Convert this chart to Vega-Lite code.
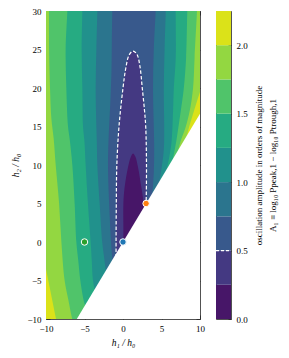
{
  "$schema": "https://vega.github.io/schema/vega-lite/v6.json",
  "background": "white",
  "padding": {"left": 10, "top": 7, "right": 2, "bottom": 2},
  "spacing": 10,
  "config": {
    "view": {"stroke": null},
    "font": "Liberation Serif",
    "axis": {"labelFont": "Liberation Serif", "titleFont": "Liberation Serif", "labelFontSize": 9, "titleFontSize": 9.5, "labelColor": "#000", "titleColor": "#000", "titleFontWeight": "normal", "domainColor": "#262626", "tickColor": "#262626", "domainWidth": 0.8, "tickWidth": 0.8, "grid": false, "zindex": 1, "labelFlush": false, "labelOverlap": false}
  },
  "datasets": {
    "poly": [
      {"p": "base", "band": 7, "i": 0, "x": -11, "y": -11}, {"p": "base", "band": 7, "i": 1, "x": 11, "y": -11}, {"p": "base", "band": 7, "i": 2, "x": 11, "y": 31}, {"p": "base", "band": 7, "i": 3, "x": -11, "y": 31},
      {"p": "yl", "band": 8, "i": 0, "x": -11, "y": -3.0}, {"p": "yl", "band": 8, "i": 1, "x": -10, "y": -3.5}, {"p": "yl", "band": 8, "i": 2, "x": -9.7, "y": -5}, {"p": "yl", "band": 8, "i": 3, "x": -9.3, "y": -7}, {"p": "yl", "band": 8, "i": 4, "x": -8.7, "y": -10}, {"p": "yl", "band": 8, "i": 5, "x": -8.55, "y": -11}, {"p": "yl", "band": 8, "i": 6, "x": -11, "y": -11},
      {"p": "yr", "band": 8, "i": 0, "x": 10.3, "y": 20.2}, {"p": "yr", "band": 8, "i": 1, "x": 10, "y": 19.5}, {"p": "yr", "band": 8, "i": 2, "x": 9.3, "y": 17.3}, {"p": "yr", "band": 8, "i": 3, "x": 8.6, "y": 15}, {"p": "yr", "band": 8, "i": 4, "x": 8.2, "y": 13.5}, {"p": "yr", "band": 8, "i": 5, "x": 11, "y": 13.5}, {"p": "yr", "band": 8, "i": 6, "x": 11, "y": 20.2},
      {"p": "L175", "band": 6, "i": 0, "x": -6.3, "y": -11}, {"p": "L175", "band": 6, "i": 1, "x": -6.6, "y": -10}, {"p": "L175", "band": 6, "i": 2, "x": -7.1, "y": -7.5}, {"p": "L175", "band": 6, "i": 3, "x": -7.58, "y": -5}, {"p": "L175", "band": 6, "i": 4, "x": -8.0, "y": 0}, {"p": "L175", "band": 6, "i": 5, "x": -8.3, "y": 5}, {"p": "L175", "band": 6, "i": 6, "x": -8.74, "y": 10}, {"p": "L175", "band": 6, "i": 7, "x": -9.0, "y": 13.4}, {"p": "L175", "band": 6, "i": 8, "x": -9.3, "y": 16}, {"p": "L175", "band": 6, "i": 9, "x": -9.48, "y": 20}, {"p": "L175", "band": 6, "i": 10, "x": -9.6, "y": 25}, {"p": "L175", "band": 6, "i": 11, "x": -9.61, "y": 30}, {"p": "L175", "band": 6, "i": 12, "x": -9.62, "y": 31},
      {"p": "L175", "band": 6, "i": 13, "x": 9.65, "y": 31}, {"p": "L175", "band": 6, "i": 14, "x": 9.61, "y": 30}, {"p": "L175", "band": 6, "i": 15, "x": 9.3, "y": 24}, {"p": "L175", "band": 6, "i": 16, "x": 9.1, "y": 20}, {"p": "L175", "band": 6, "i": 17, "x": 8.66, "y": 17}, {"p": "L175", "band": 6, "i": 18, "x": 8.1, "y": 14.8}, {"p": "L175", "band": 6, "i": 19, "x": 7.45, "y": 13}, {"p": "L175", "band": 6, "i": 20, "x": 7.0, "y": 11.2},
      {"p": "L150", "band": 5, "i": 0, "x": -4.6, "y": -9}, {"p": "L150", "band": 5, "i": 1, "x": -5.0, "y": -8}, {"p": "L150", "band": 5, "i": 2, "x": -5.54, "y": -5}, {"p": "L150", "band": 5, "i": 3, "x": -5.8, "y": -2.5}, {"p": "L150", "band": 5, "i": 4, "x": -6.06, "y": 0}, {"p": "L150", "band": 5, "i": 5, "x": -6.28, "y": 5}, {"p": "L150", "band": 5, "i": 6, "x": -6.58, "y": 10}, {"p": "L150", "band": 5, "i": 7, "x": -6.93, "y": 13.4}, {"p": "L150", "band": 5, "i": 8, "x": -7.14, "y": 15}, {"p": "L150", "band": 5, "i": 9, "x": -7.36, "y": 20}, {"p": "L150", "band": 5, "i": 10, "x": -7.45, "y": 25}, {"p": "L150", "band": 5, "i": 11, "x": -7.23, "y": 30}, {"p": "L150", "band": 5, "i": 12, "x": -7.22, "y": 31},
      {"p": "L150", "band": 5, "i": 13, "x": 8.4, "y": 31}, {"p": "L150", "band": 5, "i": 14, "x": 8.35, "y": 30}, {"p": "L150", "band": 5, "i": 15, "x": 8.2, "y": 24}, {"p": "L150", "band": 5, "i": 16, "x": 7.9, "y": 20}, {"p": "L150", "band": 5, "i": 17, "x": 7.5, "y": 17}, {"p": "L150", "band": 5, "i": 18, "x": 6.9, "y": 13}, {"p": "L150", "band": 5, "i": 19, "x": 6.4, "y": 10.3},
      {"p": "L125", "band": 4, "i": 0, "x": -3.5, "y": -7}, {"p": "L125", "band": 4, "i": 1, "x": -3.9, "y": -5}, {"p": "L125", "band": 4, "i": 2, "x": -4.05, "y": -2.5}, {"p": "L125", "band": 4, "i": 3, "x": -4.2, "y": 0}, {"p": "L125", "band": 4, "i": 4, "x": -4.55, "y": 5}, {"p": "L125", "band": 4, "i": 5, "x": -4.85, "y": 10}, {"p": "L125", "band": 4, "i": 6, "x": -5.0, "y": 13}, {"p": "L125", "band": 4, "i": 7, "x": -5.19, "y": 15}, {"p": "L125", "band": 4, "i": 8, "x": -5.28, "y": 20}, {"p": "L125", "band": 4, "i": 9, "x": -5.37, "y": 25}, {"p": "L125", "band": 4, "i": 10, "x": -5.28, "y": 30}, {"p": "L125", "band": 4, "i": 11, "x": -5.27, "y": 31},
      {"p": "L125", "band": 4, "i": 12, "x": 6.84, "y": 31}, {"p": "L125", "band": 4, "i": 13, "x": 6.84, "y": 30}, {"p": "L125", "band": 4, "i": 14, "x": 6.85, "y": 24}, {"p": "L125", "band": 4, "i": 15, "x": 6.6, "y": 20}, {"p": "L125", "band": 4, "i": 16, "x": 6.5, "y": 17}, {"p": "L125", "band": 4, "i": 17, "x": 6.3, "y": 13}, {"p": "L125", "band": 4, "i": 18, "x": 5.9, "y": 10.5}, {"p": "L125", "band": 4, "i": 19, "x": 5.4, "y": 8.5},
      {"p": "L100", "band": 3, "i": 0, "x": -2.2, "y": -4}, {"p": "L100", "band": 3, "i": 1, "x": -2.45, "y": -2}, {"p": "L100", "band": 3, "i": 2, "x": -2.7, "y": 0}, {"p": "L100", "band": 3, "i": 3, "x": -3.03, "y": 5}, {"p": "L100", "band": 3, "i": 4, "x": -3.33, "y": 10}, {"p": "L100", "band": 3, "i": 5, "x": -3.4, "y": 13}, {"p": "L100", "band": 3, "i": 6, "x": -3.46, "y": 15}, {"p": "L100", "band": 3, "i": 7, "x": -3.55, "y": 20}, {"p": "L100", "band": 3, "i": 8, "x": -3.46, "y": 25}, {"p": "L100", "band": 3, "i": 9, "x": -3.33, "y": 30}, {"p": "L100", "band": 3, "i": 10, "x": -3.32, "y": 31},
      {"p": "L100", "band": 3, "i": 11, "x": 5.55, "y": 31}, {"p": "L100", "band": 3, "i": 12, "x": 5.55, "y": 30}, {"p": "L100", "band": 3, "i": 13, "x": 5.4, "y": 25}, {"p": "L100", "band": 3, "i": 14, "x": 5.3, "y": 20}, {"p": "L100", "band": 3, "i": 15, "x": 5.35, "y": 15}, {"p": "L100", "band": 3, "i": 16, "x": 5.3, "y": 12}, {"p": "L100", "band": 3, "i": 17, "x": 5.0, "y": 9.5}, {"p": "L100", "band": 3, "i": 18, "x": 4.6, "y": 7.2},
      {"p": "L075", "band": 2, "i": 0, "x": -1.3, "y": -3}, {"p": "L075", "band": 2, "i": 1, "x": -1.45, "y": -1.5}, {"p": "L075", "band": 2, "i": 2, "x": -1.55, "y": 0}, {"p": "L075", "band": 2, "i": 3, "x": -1.8, "y": 5}, {"p": "L075", "band": 2, "i": 4, "x": -1.95, "y": 10}, {"p": "L075", "band": 2, "i": 5, "x": -1.85, "y": 14}, {"p": "L075", "band": 2, "i": 6, "x": -1.65, "y": 18}, {"p": "L075", "band": 2, "i": 7, "x": -1.5, "y": 22}, {"p": "L075", "band": 2, "i": 8, "x": -1.45, "y": 26}, {"p": "L075", "band": 2, "i": 9, "x": -1.39, "y": 30}, {"p": "L075", "band": 2, "i": 10, "x": -1.38, "y": 31},
      {"p": "L075", "band": 2, "i": 11, "x": 4.25, "y": 31}, {"p": "L075", "band": 2, "i": 12, "x": 4.24, "y": 30}, {"p": "L075", "band": 2, "i": 13, "x": 4.0, "y": 25}, {"p": "L075", "band": 2, "i": 14, "x": 3.9, "y": 20}, {"p": "L075", "band": 2, "i": 15, "x": 4.0, "y": 15}, {"p": "L075", "band": 2, "i": 16, "x": 4.05, "y": 12}, {"p": "L075", "band": 2, "i": 17, "x": 4.0, "y": 9}, {"p": "L075", "band": 2, "i": 18, "x": 3.8, "y": 6},
      {"p": "L050", "band": 1, "i": 0, "x": -0.9, "y": -2}, {"p": "L050", "band": 1, "i": 1, "x": -0.9, "y": 0}, {"p": "L050", "band": 1, "i": 2, "x": -0.87, "y": 5}, {"p": "L050", "band": 1, "i": 3, "x": -0.8, "y": 10}, {"p": "L050", "band": 1, "i": 4, "x": -0.52, "y": 15}, {"p": "L050", "band": 1, "i": 5, "x": 0, "y": 20}, {"p": "L050", "band": 1, "i": 6, "x": 0.35, "y": 22.5}, {"p": "L050", "band": 1, "i": 7, "x": 0.8, "y": 24.3}, {"p": "L050", "band": 1, "i": 8, "x": 1.3, "y": 24.8}, {"p": "L050", "band": 1, "i": 9, "x": 1.8, "y": 24.4}, {"p": "L050", "band": 1, "i": 10, "x": 2.2, "y": 22.8}, {"p": "L050", "band": 1, "i": 11, "x": 2.5, "y": 20}, {"p": "L050", "band": 1, "i": 12, "x": 2.8, "y": 17}, {"p": "L050", "band": 1, "i": 13, "x": 2.95, "y": 15}, {"p": "L050", "band": 1, "i": 14, "x": 3.05, "y": 10}, {"p": "L050", "band": 1, "i": 15, "x": 3.0, "y": 5}, {"p": "L050", "band": 1, "i": 16, "x": 2.95, "y": 4},
      {"p": "L025", "band": 0, "i": 0, "x": 0.05, "y": -0.5}, {"p": "L025", "band": 0, "i": 1, "x": 0.05, "y": 2}, {"p": "L025", "band": 0, "i": 2, "x": 0.05, "y": 5}, {"p": "L025", "band": 0, "i": 3, "x": 0.2, "y": 7}, {"p": "L025", "band": 0, "i": 4, "x": 0.65, "y": 9.7}, {"p": "L025", "band": 0, "i": 5, "x": 1.0, "y": 11}, {"p": "L025", "band": 0, "i": 6, "x": 1.3, "y": 11.5}, {"p": "L025", "band": 0, "i": 7, "x": 1.6, "y": 11.1}, {"p": "L025", "band": 0, "i": 8, "x": 1.95, "y": 9.7}, {"p": "L025", "band": 0, "i": 9, "x": 2.4, "y": 7}, {"p": "L025", "band": 0, "i": 10, "x": 2.7, "y": 5}, {"p": "L025", "band": 0, "i": 11, "x": 2.8, "y": 4.3},
      {"p": "white", "band": 9, "i": 0, "x": -6.6, "y": -11}, {"p": "white", "band": 9, "i": 1, "x": 11, "y": 18.333}, {"p": "white", "band": 9, "i": 2, "x": 11, "y": -11}
    ],
    "pts": [
      {"x": -5, "y": 0, "c": "g"},
      {"x": 0, "y": 0, "c": "b"},
      {"x": 3, "y": 5, "c": "o"}
    ],
    "cbar": [
      {"lo": 0, "hi": 0.25, "band": 0}, {"lo": 0.25, "hi": 0.5, "band": 1}, {"lo": 0.5, "hi": 0.75, "band": 2}, {"lo": 0.75, "hi": 1.0, "band": 3}, {"lo": 1.0, "hi": 1.25, "band": 4}, {"lo": 1.25, "hi": 1.5, "band": 5}, {"lo": 1.5, "hi": 1.75, "band": 6}, {"lo": 1.75, "hi": 2.0, "band": 7}, {"lo": 2.0, "hi": 2.25, "band": 8}
    ],
    "cline": [{"level": 0.5}]
  },
  "hconcat": [
    {
      "width": 154,
      "height": 308,
      "data": {"name": "poly"},
      "resolve": {"axis": {"x": "independent", "y": "independent"}},
      "layer": [
        {
          "transform": [{"filter": "datum.p === 'base'"}],
          "mark": {"type": "line", "filled": true, "clip": true},
          "encoding": {
            "x": {"field": "x", "type": "quantitative", "scale": {"domain": [-10, 10], "nice": false, "zero": false}, "axis": {"orient": "bottom", "values": [-10, -5, 0, 5, 10], "tickSize": -4, "labelPadding": 9, "title": "h₁ / h₀", "titleFontStyle": "italic", "titlePadding": 4}},
            "y": {"field": "y", "type": "quantitative", "scale": {"domain": [-10, 30], "nice": false, "zero": false}, "axis": {"orient": "left", "values": [-10, -5, 0, 5, 10, 15, 20, 25, 30], "tickSize": -4, "labelPadding": 9, "title": "h₂ / h₀", "titleFontStyle": "italic", "titlePadding": 6}},
            "color": {"field": "band", "type": "ordinal", "scale": {"domain": [0, 1, 2, 3, 4, 5, 6, 7, 8], "range": ["#471668", "#443982", "#38598c", "#2b758e", "#21918c", "#26ab82", "#50c46a", "#93d741", "#dbe219"]}, "legend": null},
            "order": {"field": "i", "type": "quantitative"}
          }
        },
        {
          "transform": [{"filter": "datum.p === 'yl' || datum.p === 'yr'"}],
          "mark": {"type": "line", "filled": true, "clip": true},
          "encoding": {
            "x": {"field": "x", "type": "quantitative", "axis": null},
            "y": {"field": "y", "type": "quantitative", "axis": null},
            "color": {"field": "band", "type": "ordinal", "legend": null},
            "detail": {"field": "p"},
            "order": {"field": "i", "type": "quantitative"}
          }
        },
        {
          "transform": [{"filter": "datum.p === 'L175'"}],
          "mark": {"type": "line", "filled": true, "clip": true, "interpolate": "catmull-rom"},
          "encoding": {
            "x": {"field": "x", "type": "quantitative", "axis": null},
            "y": {"field": "y", "type": "quantitative", "axis": null},
            "color": {"field": "band", "type": "ordinal", "legend": null},
            "order": {"field": "i", "type": "quantitative"}
          }
        },
        {
          "transform": [{"filter": "datum.p === 'L150'"}],
          "mark": {"type": "line", "filled": true, "clip": true, "interpolate": "catmull-rom"},
          "encoding": {
            "x": {"field": "x", "type": "quantitative", "axis": null},
            "y": {"field": "y", "type": "quantitative", "axis": null},
            "color": {"field": "band", "type": "ordinal", "legend": null},
            "order": {"field": "i", "type": "quantitative"}
          }
        },
        {
          "transform": [{"filter": "datum.p === 'L125'"}],
          "mark": {"type": "line", "filled": true, "clip": true, "interpolate": "catmull-rom"},
          "encoding": {
            "x": {"field": "x", "type": "quantitative", "axis": null},
            "y": {"field": "y", "type": "quantitative", "axis": null},
            "color": {"field": "band", "type": "ordinal", "legend": null},
            "order": {"field": "i", "type": "quantitative"}
          }
        },
        {
          "transform": [{"filter": "datum.p === 'L100'"}],
          "mark": {"type": "line", "filled": true, "clip": true, "interpolate": "catmull-rom"},
          "encoding": {
            "x": {"field": "x", "type": "quantitative", "axis": null},
            "y": {"field": "y", "type": "quantitative", "axis": null},
            "color": {"field": "band", "type": "ordinal", "legend": null},
            "order": {"field": "i", "type": "quantitative"}
          }
        },
        {
          "transform": [{"filter": "datum.p === 'L075'"}],
          "mark": {"type": "line", "filled": true, "clip": true, "interpolate": "catmull-rom"},
          "encoding": {
            "x": {"field": "x", "type": "quantitative", "axis": null},
            "y": {"field": "y", "type": "quantitative", "axis": null},
            "color": {"field": "band", "type": "ordinal", "legend": null},
            "order": {"field": "i", "type": "quantitative"}
          }
        },
        {
          "transform": [{"filter": "datum.p === 'L050'"}],
          "mark": {"type": "line", "filled": true, "clip": true, "interpolate": "catmull-rom"},
          "encoding": {
            "x": {"field": "x", "type": "quantitative", "axis": null},
            "y": {"field": "y", "type": "quantitative", "axis": null},
            "color": {"field": "band", "type": "ordinal", "legend": null},
            "order": {"field": "i", "type": "quantitative"}
          }
        },
        {
          "transform": [{"filter": "datum.p === 'L025'"}],
          "mark": {"type": "line", "filled": true, "clip": true, "interpolate": "catmull-rom"},
          "encoding": {
            "x": {"field": "x", "type": "quantitative", "axis": null},
            "y": {"field": "y", "type": "quantitative", "axis": null},
            "color": {"field": "band", "type": "ordinal", "legend": null},
            "order": {"field": "i", "type": "quantitative"}
          }
        },
        {
          "transform": [{"filter": "datum.p === 'L050'"}],
          "mark": {"type": "line", "color": "white", "strokeWidth": 1.2, "strokeDash": [3.5, 2], "clip": true, "interpolate": "catmull-rom"},
          "encoding": {
            "x": {"field": "x", "type": "quantitative", "axis": null},
            "y": {"field": "y", "type": "quantitative", "axis": null},
            "order": {"field": "i", "type": "quantitative"}
          }
        },
        {
          "transform": [{"filter": "datum.p === 'white'"}],
          "mark": {"type": "line", "filled": true, "clip": true, "fill": "white", "stroke": null},
          "encoding": {
            "x": {"field": "x", "type": "quantitative", "axis": {"orient": "top", "values": [-10, -5, 0, 5, 10], "tickSize": -4, "labels": false, "title": null}},
            "y": {"field": "y", "type": "quantitative", "axis": {"orient": "right", "values": [-10, -5, 0, 5, 10, 15, 20, 25, 30], "tickSize": -4, "labels": false, "title": null}},
            "order": {"field": "i", "type": "quantitative"}
          }
        },
        {
          "data": {"name": "pts"},
          "mark": {"type": "circle", "stroke": "white", "strokeWidth": 1, "size": 42, "opacity": 1},
          "encoding": {
            "x": {"field": "x", "type": "quantitative", "axis": null},
            "y": {"field": "y", "type": "quantitative", "axis": null},
            "fill": {"field": "c", "type": "nominal", "scale": {"domain": ["g", "b", "o"], "range": ["#2ca02c", "#1f77b4", "#ff7f0e"]}, "legend": null}
          }
        }
      ]
    },
    {
      "width": 15,
      "height": 308,
      "data": {"name": "cbar"},
      "resolve": {"axis": {"x": "independent", "y": "independent"}},
      "layer": [
        {
          "mark": {"type": "rect"},
          "encoding": {
            "y": {"field": "lo", "type": "quantitative", "scale": {"domain": [0, 2.25], "nice": false, "zero": false}, "axis": {"orient": "right", "values": [0, 0.5, 1, 1.5, 2], "format": ".1f", "tickSize": -3, "labelPadding": 8, "title": ["oscillation amplitude in orders of magnitude", "A₁ ≡ log₁₀ Ppeak,1 − log₁₀ Ptrough,1"], "titleAngle": 270, "titleFontSize": 9, "titlePadding": 2, "titleLineHeight": 14}},
            "y2": {"field": "hi"},
            "x": {"datum": 0, "type": "quantitative", "scale": {"domain": [0, 1], "nice": false}, "axis": {"orient": "bottom", "ticks": false, "labels": false, "title": null}},
            "x2": {"datum": 1},
            "color": {"field": "band", "type": "ordinal", "legend": null}
          }
        },
        {
          "data": {"name": "cline"},
          "mark": {"type": "rule", "color": "white", "strokeWidth": 1.2, "strokeDash": [3, 2]},
          "encoding": {
            "y": {"field": "level", "type": "quantitative", "axis": {"orient": "left", "ticks": false, "labels": false, "title": null}},
            "x": {"datum": 0, "type": "quantitative", "axis": {"orient": "top", "ticks": false, "labels": false, "title": null}},
            "x2": {"datum": 1}
          }
        }
      ]
    }
  ]
}
